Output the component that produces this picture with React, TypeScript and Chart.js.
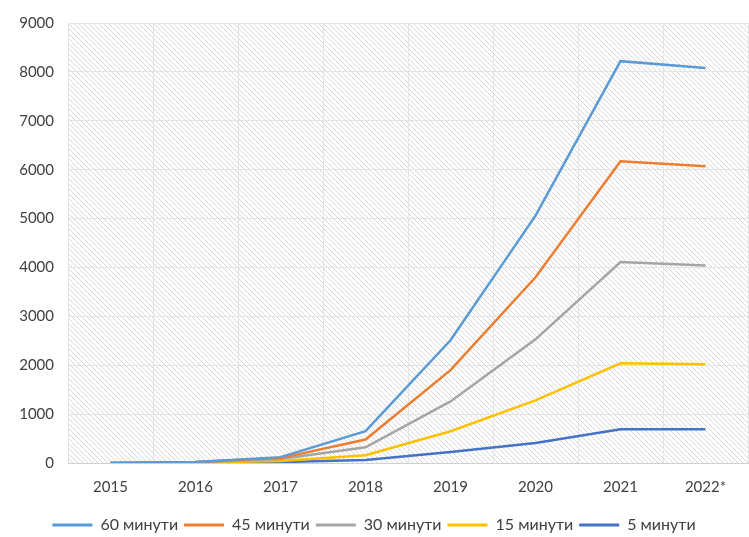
import React, { useEffect, useRef } from "react";
import { Chart, registerables } from "chart.js";

Chart.register(...registerables);

const categories = ["2015", "2016", "2017", "2018", "2019", "2020", "2021", "2022*"];
const seriesNames = ["60 минути", "45 минути", "30 минути", "15 минути", "5 минути"];
const min60 = [0, 20, 120, 650, 2510, 5060, 8220, 8080];
const min45 = [0, 20, 100, 480, 1900, 3800, 6170, 6070];
const min30 = [0, 15, 80, 320, 1260, 2530, 4110, 4040];
const min15 = [0, 10, 40, 160, 650, 1280, 2040, 2020];
const min5 = [0, 5, 20, 60, 225, 410, 690, 690];
const seriesColors = ["#5B9BD5", "#ED7D31", "#A5A5A5", "#FFC000", "#4472C4"];
const yTicks = [0, 1000, 2000, 3000, 4000, 5000, 6000, 7000, 8000, 9000];

const FONT = "Lato, 'Open Sans', sans-serif";

function makeHatch(): CanvasPattern | string {
  const s = 5;
  const c = document.createElement("canvas");
  c.width = s;
  c.height = s;
  const g = c.getContext("2d");
  if (!g) return "#ffffff";
  g.fillStyle = "#ffffff";
  g.fillRect(0, 0, s, s);
  g.strokeStyle = "#d8d8d8";
  g.lineWidth = 1;
  for (let k = -1; k <= 1; k++) {
    g.beginPath();
    g.moveTo(k * s, 0);
    g.lineTo(k * s + s, s);
    g.stroke();
  }
  const p = g.createPattern(c, "repeat");
  return p || "#ffffff";
}

export default function App() {
  const ref = useRef<HTMLCanvasElement | null>(null);

  useEffect(() => {
    if (!ref.current) return;
    const hatch = makeHatch();
    const hatchPlugin = {
      id: "hatchBg",
      beforeLayout(chart: any) {
        const lg = chart.legend;
        if (lg && !lg.__patched) {
          const orig = lg.fit.bind(lg);
          lg.fit = function () {
            orig();
            this.height -= 6;
          };
          lg.__patched = true;
        }
      },
      beforeDraw(chart: any) {
        const { ctx, chartArea } = chart;
        if (!chartArea) return;
        ctx.save();
        ctx.fillStyle = hatch;
        ctx.fillRect(chartArea.left, chartArea.top, chartArea.right - chartArea.left, chartArea.bottom - chartArea.top);
        ctx.restore();
      },
    };
    const allData = [min60, min45, min30, min15, min5];
    const chart = new Chart(ref.current, {
      type: "line",
      data: {
        labels: categories,
        datasets: allData.map((d, i) => ({
          label: seriesNames[i],
          data: d,
          borderColor: seriesColors[i],
          backgroundColor: seriesColors[i],
          borderWidth: 2.5,
          pointRadius: 0,
          tension: 0,
          fill: false,
        })),
      },
      options: {
        animation: false,
        responsive: true,
        maintainAspectRatio: false,
        layout: { padding: { top: 10, right: 1, bottom: 0, left: 0 } },
        plugins: {
          tooltip: { enabled: false },
          legend: {
            position: "bottom",
            labels: {
              color: "#404040",
              font: { family: FONT, size: 16 },
              boxWidth: 40,
              boxHeight: 3,
              padding: 6,
              generateLabels(chart: any) {
                const items = Chart.defaults.plugins.legend.labels.generateLabels(chart);
                return items.map((it: any) => ({ ...it, lineWidth: 0 }));
              },
            },
          },
        },
        scales: {
          x: {
            offset: true,
            grid: { color: "#e4e4e4", offset: true, drawTicks: false },
            border: { color: "#d0d0d0", width: 1 },
            ticks: { color: "#404040", font: { family: FONT, size: 15 }, padding: 15 },
          },
          y: {
            min: 0,
            max: 9000,
            afterFit(scale: any) {
              scale.width = 68;
            },
            afterBuildTicks(scale: any) {
              scale.ticks = yTicks.map((v) => ({ value: v }));
            },
            grid: { color: "#e4e4e4", drawTicks: false },
            border: { display: false },
            ticks: {
              color: "#404040",
              font: { family: FONT, size: 15 },
              padding: 14,
              callback: (v: any) => String(v),
            },
          },
        },
      },
      plugins: [hatchPlugin],
    });
    return () => chart.destroy();
  }, []);

  return (
    <div style={{ position: "fixed", left: 0, top: 0, width: 749, height: 537, background: "#ffffff" }}>
      <canvas ref={ref} />
    </div>
  );
}
